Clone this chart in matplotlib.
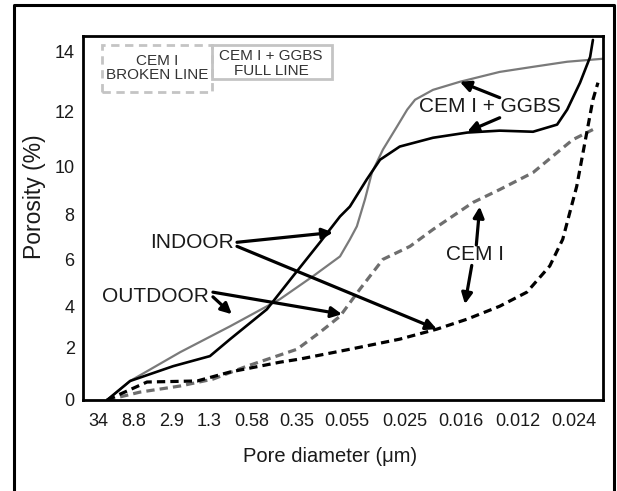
import numpy as np
import matplotlib
matplotlib.use("Agg")
import matplotlib.pyplot as plt
from matplotlib.patches import Rectangle
from matplotlib.lines import Line2D

plt.rcParams['font.family'] = ['Liberation Sans', 'DejaVu Sans']

# tick labels on the pore diameter axis (category index 0..10)
diam_labels = ["34", "8.8", "2.9", "1.3", "0.58", "0.35", "0.055",
               "0.025", "0.016", "0.012", "0.024"]
por_ticks = [0, 2, 4, 6, 8, 10, 12, 14]

# CEM I + GGBS, outdoor (grey full line)
ggbs_out_x = [0.25, 0.89, 2.22, 3.49, 4.62, 5.32, 5.86, 6.05, 6.17, 6.31, 6.43,
              6.62, 6.86, 7.04, 7.18, 7.5, 7.98, 8.68, 9.27, 9.88, 10.52]
ggbs_out_y = [0.0, 0.72, 1.81, 3.02, 4.30, 5.28, 6.13, 6.89, 7.47, 8.63, 9.75,
              10.62, 11.45, 12.07, 12.4, 12.73, 13.0, 13.33, 13.5, 13.67, 13.77]

# CEM I + GGBS, indoor (black full line)
ggbs_in_x = [0.25, 0.89, 2.03, 3.02, 3.49, 4.33, 4.91, 5.46, 5.86, 6.05, 6.34,
             6.57, 6.91, 7.5, 8.11, 8.68, 9.27, 9.70, 9.88, 10.11, 10.29, 10.34]
ggbs_in_y = [0.0, 0.72, 1.28, 1.66, 2.39, 3.85, 5.28, 6.76, 7.91, 8.33, 9.46,
             10.25, 10.73, 11.05, 11.24, 11.31, 11.27, 11.53, 12.07, 12.97, 13.83, 14.4]

# CEM I, outdoor (grey broken line)
cem_out_x = [0.25, 1.16, 2.22, 3.09, 3.88, 5.0, 5.46, 5.86, 6.22, 6.62, 7.09,
             7.5, 8.21, 8.68, 9.27, 9.70, 9.98, 10.34]
cem_out_y = [0.0, 0.30, 0.53, 0.79, 1.28, 1.92, 2.73, 3.51, 4.72, 6.0, 6.58,
             7.33, 8.5, 9.04, 9.75, 10.51, 10.98, 11.35]

# CEM I, indoor (black broken line)
cem_in_x = [0.25, 1.34, 2.68, 3.49, 4.62, 5.06, 6.05, 6.91, 7.57, 8.11, 8.68,
            9.16, 9.57, 9.80, 10.05, 10.23, 10.34, 10.43]
cem_in_y = [0.0, 0.68, 0.72, 1.06, 1.43, 1.55, 1.92, 2.39, 2.88, 3.37, 4.0,
            4.6, 5.72, 6.89, 9.17, 11.24, 12.4, 12.97]

# the printed axes are not evenly spaced: map values to their printed positions
x_knots = np.arange(-1, 12)
x_pos = np.array([62, 98, 134, 172, 209, 252, 297, 347, 405, 461, 518, 574, 630], float)
y_knots = np.array([-2, 0, 2, 4, 6, 8, 10, 12, 14, 16], float)
y_pos = np.array([-53, 0, 53, 94, 141, 186, 234, 289, 349, 409], float)

fig = plt.figure(figsize=(6.17, 4.91), dpi=100)
ax = fig.add_axes([83/617, 1-400/491, 520/617, 364/491])

ax.set_xscale('function', functions=(lambda v: np.interp(v, x_knots, x_pos),
                                     lambda p: np.interp(p, x_pos, x_knots)))
ax.set_yscale('function', functions=(lambda v: np.interp(v, y_knots, y_pos),
                                     lambda p: np.interp(p, y_pos, y_knots)))

ax.plot(ggbs_out_x, ggbs_out_y, color='#7a7a7a', lw=1.6, solid_capstyle='round',
        solid_joinstyle='round')
ax.plot(ggbs_in_x, ggbs_in_y, color='black', lw=1.9, solid_capstyle='round',
        solid_joinstyle='round')
l1, = ax.plot(cem_out_x, cem_out_y, color='#6e6e6e', lw=2.3)
l1.set_dashes((2.6, 1.6))
l2, = ax.plot(cem_in_x, cem_in_y, color='black', lw=2.3)
l2.set_dashes((2.6, 1.6))

ax.set_xlim(-0.42, 10.52)
ax.set_ylim(0, 14.53)
ax.set_xticks(range(len(diam_labels)))
ax.set_xticklabels(diam_labels)
ax.set_yticks(por_ticks)
ax.set_yticklabels([str(t) for t in por_ticks])
ax.tick_params(length=0, labelsize=13, colors='#1a1a1a')
ax.tick_params(axis='x', pad=9)
ax.tick_params(axis='y', pad=6)
for s in ax.spines.values():
    s.set_linewidth(2.0)

ax.set_xlabel("Pore diameter (\u03bcm)", fontsize=14.5, color='#1a1a1a')
ax.set_ylabel("Porosity (%)", fontsize=16.5, color='#1a1a1a')
ax.xaxis.set_label_coords(0.475, -0.128)
ax.yaxis.set_label_coords(-0.072, 0.558)

# annotations
arw = dict(arrowstyle='-|>', color='black', lw=2.3, mutation_scale=16,
           shrinkA=0, shrinkB=0)
txt = dict(fontsize=15, color='#1a1a1a', ha='center', va='center')

ax.text(8.51, 12.17, "CEM I + GGBS", **txt)
ax.annotate("", xy=(7.98, 13.0), xytext=(8.68, 12.47), arrowprops=arw)
ax.annotate("", xy=(8.11, 11.27), xytext=(8.68, 11.78), arrowprops=arw)

ax.text(2.54, 6.76, "INDOOR", **txt)
ax.annotate("", xy=(5.72, 7.2), xytext=(3.65, 6.76), arrowprops=arw)
ax.annotate("", xy=(7.57, 2.88), xytext=(3.65, 6.58), arrowprops=arw)

ax.text(1.55, 4.43, "OUTDOOR", **txt)
ax.annotate("", xy=(5.9, 3.61), xytext=(3.09, 4.6), arrowprops=arw)
ax.annotate("", xy=(3.53, 3.61), xytext=(3.09, 4.4), arrowprops=arw)

ax.text(8.25, 6.21, "CEM I", **txt)
ax.annotate("", xy=(8.07, 4.09), xytext=(8.19, 5.74), arrowprops=arw)
ax.annotate("", xy=(8.33, 8.33), xytext=(8.27, 6.64), arrowprops=arw)

# key boxes in the top left corner
ax.add_patch(Rectangle((0.0365, 0.846), 0.2115, 0.129, transform=ax.transAxes,
                       fill=False, edgecolor='#c4c4c4', lw=2, ls=(0, (3, 2))))
ax.add_patch(Rectangle((0.248, 0.882), 0.231, 0.093, transform=ax.transAxes,
                       fill=False, edgecolor='#c4c4c4', lw=2))
key = dict(transform=ax.transAxes, fontsize=11, color='#333333',
           ha='center', va='center')
ax.text(0.142, 0.931, "CEM I", **key)
ax.text(0.142, 0.893, "BROKEN LINE", **key)
ax.text(0.3615, 0.945, "CEM I + GGBS", **key)
ax.text(0.3615, 0.904, "FULL LINE", **key)

# outer frame (open at the bottom)
fx0, fx1, fy1 = 13.5/617, 613.5/617, 1-5/491
fig.add_artist(Line2D([fx0, fx0, fx1, fx1], [-0.01, fy1, fy1, -0.01],
                      transform=fig.transFigure, color='black', lw=2.2))

fig.savefig("out.png", dpi=100)
